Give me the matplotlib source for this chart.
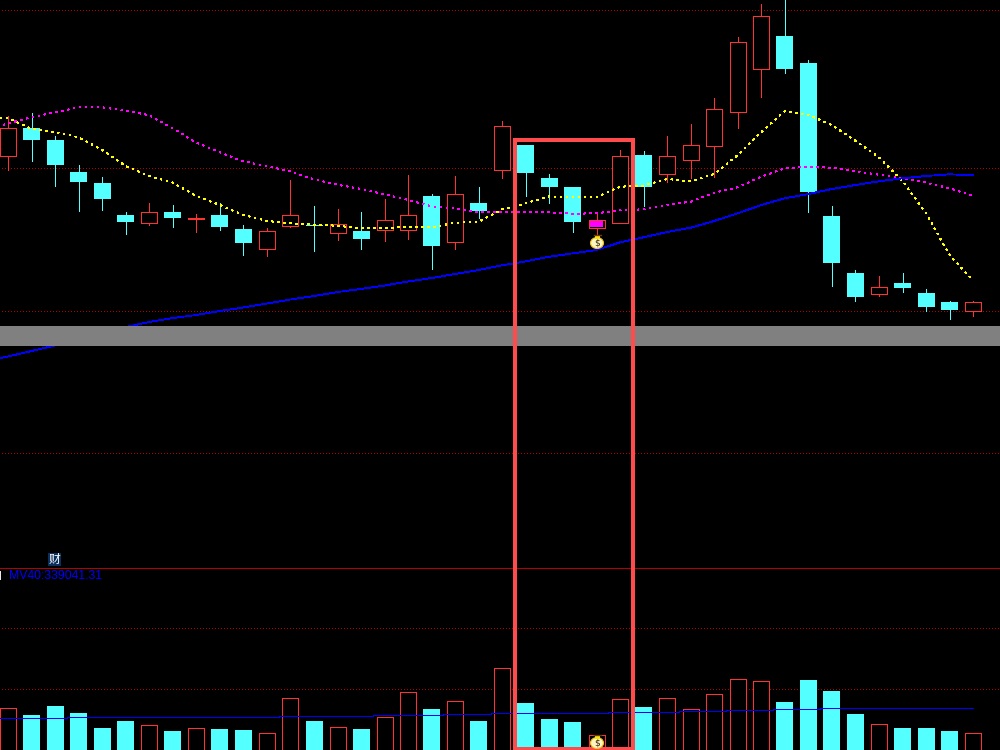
#!/usr/bin/env python3
# -*- coding: utf-8 -*-
import matplotlib
matplotlib.use("Agg")
import matplotlib.pyplot as plt
import matplotlib.patches as patches
import numpy as np

# K line data, price scale is arbitrary
opens = [444.3, 472, 460, 428, 417, 385, 377.3, 388, 381.5, 385, 371, 351.3, 374.3, 375,
         367.3, 369, 370.3, 370.3, 404, 358.3, 397, 430.3, 455, 422, 413, 372.3, 377.3, 445,
         425.7, 440.3, 454.3, 488.3, 531.3, 564, 537, 384, 327, 306.3, 317, 307, 298, 289.3]
closes = [471.7, 460, 435, 418, 401, 378, 387.7, 382, 382.5, 373, 357, 368.7, 384.7, 374,
          375.7, 361, 379.7, 384.7, 354, 405.7, 389, 473.7, 427, 413, 378, 379.7, 443.7, 413,
          443.7, 454.7, 490.7, 557.7, 583.7, 531, 408, 337, 303, 312.7, 312, 293, 290, 297.7]
highs = [484, 487, 464, 435, 423, 388, 397, 395, 386, 397, 375, 372, 420, 394,
         391, 388, 401, 425, 406, 424, 413, 479, 455, 426, 413, 386, 450, 449,
         464, 476, 502, 563, 596, 600, 540, 394, 330, 324, 327, 311, 299, 299]
lows = [430, 439, 414, 389, 390, 366, 375, 373, 368, 370, 345, 344, 373, 349,
        360, 351, 359, 361, 331, 351, 382, 422, 404, 397, 368, 366, 377.3, 394,
        418, 422, 423.3, 472, 503, 527, 388, 314, 299, 304, 308, 289, 281, 284]

ma_yellow = [481.7, 471.3, 468, 462.7, 450, 434, 424, 417.3, 404, 395, 385, 379, 376.7, 375.3,
             374.3, 371.7, 372, 373.3, 372.7, 377.3, 378.3, 390.7, 396.7, 403.7, 402.7, 402.7, 413.3, 414.3,
             421, 418.7, 426, 445, 468, 489, 485, 475, 459.3, 442.7, 419, 386.7, 345, 319.3]
ma_magenta = [476.7, 482.7, 487.7, 492.7, 492.7, 489.3, 484.7, 471.7, 457.3, 447.7, 438.7, 433.7, 428.7, 420.7,
              415.3, 411, 405.7, 400, 393.7, 391.7, 387.7, 387.7, 387.7, 387.7, 386.3, 386.7, 389.7, 390.7,
              395, 398.3, 407.3, 412.7, 423.3, 431.7, 433.3, 432.3, 428.7, 425.3, 422, 417.3, 411.7, 404.3]
ma_blue = [243.5, 249, 254.5, 260, 265.5, 273, 278, 282, 285, 289, 292.5, 296.5, 300.5, 304,
           308, 311, 314.5, 318.5, 322, 326, 330, 334.7, 338.7, 343.3, 346.7, 350, 357.7, 362.7,
           368, 372.3, 379, 386.7, 395, 401.7, 406, 411, 415, 418.7, 421.7, 424, 425.7, 424.7]

# volume, in 10k
volume = [41.7, 35, 44, 37, 22, 29, 24.7, 19, 21.7, 21, 20, 16.7, 51.7, 29,
          22.7, 21, 32.7, 57.7, 41, 48.7, 29, 81.7, 47, 31, 28, 14.7, 50.7, 43,
          51.7, 40.7, 55.7, 70.7, 68.7, 48, 70, 59, 36, 25.7, 22, 22, 19, 16.7]
mv40 = [31.7, 31.7, 31.7, 32.7, 32.7, 32.7, 32.7, 32.7, 32.7, 32.7, 32.7, 32.7, 33.7, 33.7,
        33.7, 33.7, 34.7, 34.7, 34.7, 35.7, 35.7, 36.7, 36.7, 36.7, 36.7, 36.7, 37.7, 37.7,
        37.7, 38.7, 38.7, 39.7, 39.7, 40.7, 40.7, 41.7, 41.7, 41.7, 41.7, 41.7, 41.7, 41.7]

price_grid = [589.7, 432.5, 289.5, 147]
volume_grid = [122, 61]
band = (254, 274)
signal_candle = 25

RED = '#ff3232'
CYAN = '#54ffff'
GRID = '#b40000'
BOX = '#ff4b4b'
PX = 0.72  # one pixel in points
MA_LW = 0.5
MA_DASH = (0, (2.5, 7))

fig = plt.figure(figsize=(10, 7.5), dpi=100, facecolor='black')
ax = fig.add_axes([0, 183 / 750, 1, 567 / 750])
ax_vol = fig.add_axes([0, 0, 1, 183 / 750])
overlay = fig.add_axes([0, 0, 1, 1])

x = np.arange(len(opens))
x_left = -8 / 23.54
x_right = 992 / 23.54

for a in (ax, ax_vol):
    a.set_facecolor('black')
    a.set_xlim(x_left, x_right)
    a.axis('off')
ax.set_ylim(33, 600)
ax_vol.set_ylim(0, 183)

overlay.set_xlim(0, 1000)
overlay.set_ylim(750, 0)
overlay.axis('off')
overlay.patch.set_alpha(0)

# dotted levels
for level in price_grid:
    ax.plot([x_left + 0.08, x_right], [level, level], color=GRID, lw=PX, ls=(0, (1, 2.33)),
            antialiased=False, zorder=1)
for level in volume_grid:
    ax_vol.plot([x_left + 0.08, x_right], [level, level], color=GRID, lw=PX, ls=(0, (1, 2.33)),
                antialiased=False, zorder=1)

# candles
width = 16.0 / 23.54
for i in x:
    up = closes[i] >= opens[i]
    color = RED if up else CYAN
    ax.vlines(i, lows[i], highs[i], color=color, lw=PX, antialiased=False, zorder=2)
    bottom = min(opens[i], closes[i])
    height = abs(closes[i] - opens[i])
    if up:
        ax.bar(i, height, width, bottom, facecolor='black', edgecolor=color, linewidth=PX,
               antialiased=False, zorder=3)
    else:
        ax.bar(i, height, width + 1 / 23.54, bottom, facecolor=color, edgecolor='none',
               antialiased=False, zorder=3)
    if i == signal_candle:
        ax.bar(i, height - 1, width - 3 / 23.54, bottom + 0.5, facecolor='#ff00ff', edgecolor='none',
               antialiased=False, zorder=4)

    if up:
        ax_vol.bar(i, volume[i], width, 0, facecolor='black', edgecolor=color, linewidth=PX,
                   antialiased=False, zorder=3)
    else:
        ax_vol.bar(i, volume[i], width + 1 / 23.54, 0, facecolor=color, edgecolor='none',
                   antialiased=False, zorder=3)

# moving averages
ax.plot(np.r_[x_left, x], np.r_[ma_yellow[0], ma_yellow], color='#ffff00', lw=MA_LW, ls=MA_DASH,
        antialiased=False, zorder=5)
ax.plot(np.r_[-0.2, x], np.r_[ma_magenta[0] - 1.5, ma_magenta], color='#ff00ff', lw=MA_LW, ls=MA_DASH,
        antialiased=False, zorder=5)
ax.plot(np.r_[x_left, x], np.r_[ma_blue[0] - 1.5, ma_blue], color='#0000ff', lw=0.6,
        antialiased=False, zorder=5)
ax_vol.plot(np.r_[x_left, x], np.r_[mv40[0], mv40], color='#0000ff', lw=PX,
            drawstyle='steps-mid', antialiased=False, zorder=5)

# grey band covers the chart
ax.axhspan(band[0], band[1], facecolor='#808080', edgecolor='none', zorder=6)


def draw_bag(cx, cy):
    """money bag marker"""
    overlay.add_patch(patches.Ellipse((cx, cy + 2), 13, 11, facecolor='#fff6c0', edgecolor='#f0c020',
                                      linewidth=0.8, zorder=8))
    overlay.add_patch(patches.Rectangle((cx - 2.5, cy - 5), 5, 3, facecolor='#ffe000', edgecolor='none', zorder=8))
    overlay.plot([cx - 3.5, cx + 3.5], [cy - 6.5, cy - 6.5], color='#6b3a10', lw=1.0, zorder=8)
    overlay.text(cx, cy + 2.3, '$', color='#3a2a10', fontsize=6.5,
                 ha='center', va='center', zorder=9)


draw_bag(597, 241)
draw_bag(597, 741)

# box around the picked candles
overlay.add_patch(patches.Rectangle((515, 140), 118, 609, fill=False, edgecolor=BOX, linewidth=4 * PX,
                                    zorder=7))

# divider and labels
overlay.plot([0, 1000], [567.5, 567.5], color=GRID, lw=PX, antialiased=False, zorder=2)
overlay.add_patch(patches.Rectangle((48, 553), 13, 13, facecolor='#0a2f5a', edgecolor='none', zorder=2))
overlay.text(54.5, 559.5, '财', color='white', fontsize=8.5, family=['Noto Sans CJK SC', 'DejaVu Sans'],
             ha='center', va='center', zorder=3)
overlay.add_patch(patches.Rectangle((0, 571), 1.2, 9, facecolor='#e8e8e8', edgecolor='none', zorder=2))
overlay.text(9.5, 576, 'MV40:339041.31', color='#0000ff', fontsize=8.8, family='Liberation Sans',
             ha='left', va='center', zorder=3)

fig.savefig('out.png', dpi=100, facecolor='black')
